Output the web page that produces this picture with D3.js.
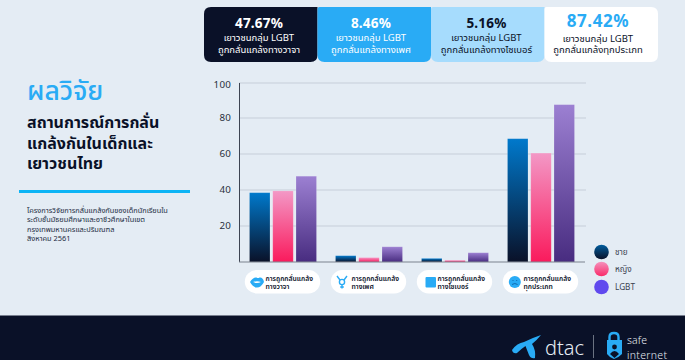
<!DOCTYPE html>
<html><head><meta charset="utf-8">
<script src="https://cdn.jsdelivr.net/npm/d3@7/dist/d3.min.js"></script>
<style>
html,body{margin:0;padding:0;background:#e4ecf4;overflow:hidden}
svg{display:block}
text{font-family:"Noto Sans","Noto Sans Thai","Inter",sans-serif}
</style></head><body><svg id="c" width="685" height="360"></svg>
<script>
const categories=["การถูกกลั่นแกล้ง|ทางวาจา","การถูกกลั่นแกล้ง|ทางเพศ","การถูกกลั่นแกล้ง|ทางไซเบอร์","การถูกกลั่นแกล้ง|ทุกประเภท"];
const seriesNames=["ชาย","หญิง","LGBT"];
const male=[38.5,3.5,2,68.5];
const female=[39.5,2.5,1,60.5];
const lgbt=[47.67,8.46,5.16,87.42];
const yTicks=[20,40,60,80,100];
const calloutPct=["47.67%","8.46%","5.16%","87.42%"];
const calloutLine2=["ถูกกลั่นแกล้งทางวาจา","ถูกกลั่นแกล้งทางเพศ","ถูกกลั่นแกล้งทางไซเบอร์","ถูกกลั่นแกล้งทุกประเภท"];
const calloutFill=["#0a1128","#29abf5","#a6dcfd","#ffffff"];
const calloutPctFill=["#fff","#fff","#0a1128","#29abf5"];
const calloutTextFill=["#fff","#fff","#0a1128","#0a1128"];
const titleLines=["สถานการณ์การกลั่น","แกล้งกันในเด็กและ","เยาวชนไทย"];
const noteLines=["โครงการวิจัยการกลั่นแกล้งกันของเด็กนักเรียนใน","ระดับชั้นมัธยมศึกษาและอาชีวศึกษาในเขต","กรุงเทพมหานครและปริมณฑล","สิงหาคม 2561"];

const svg=d3.select("#c");
const defs=svg.append("defs");
const grads=[["g0","#0079cc","#0a1128"],["g1","#f398c6","#fa1a5c"],["g2","#9c80d2","#482c80"],["l0","#005d9e","#0a1128"],["l1","#f492bd","#fa2a68"]];
grads.forEach(g=>{const l=defs.append("linearGradient").attr("id",g[0]).attr("x1",0).attr("x2",0).attr("y1",0).attr("y2",1);
 l.append("stop").attr("offset",0).attr("stop-color",g[1]);l.append("stop").attr("offset",1).attr("stop-color",g[2]);});

svg.append("rect").attr("width",685).attr("height",360).attr("fill","#e4ecf4");

// callouts
const bx=d3.scaleBand().domain(d3.range(4)).range([204,658]);
const r=7;
function boxPath(x,y,w,h,tl,tr,br,bl){return `M${x+tl},${y}H${x+w-tr}Q${x+w},${y} ${x+w},${y+tr}V${y+h-br}Q${x+w},${y+h} ${x+w-br},${y+h}H${x+bl}Q${x},${y+h} ${x},${y+h-bl}V${y+tl}Q${x},${y} ${x+tl},${y}Z`;}
const calloutCx=[259,371,486.5,598];
d3.range(4).forEach(i=>{
 const x=bx(i),w=bx.bandwidth();
 svg.append("path").attr("d",boxPath(x,7,w,55,i==0?r:2,i==3?r:0,r,r)).attr("fill",calloutFill[i]);
 const cx=calloutCx[i];
 svg.append("text").attr("x",cx).attr("y",i==3?27:27.5).attr("text-anchor","middle").attr("font-family","Roboto,sans-serif").attr("letter-spacing",i==3?0.6:0.2).attr("font-size",i==3?17:13.5).attr("font-weight",700).attr("fill",calloutPctFill[i]).text(calloutPct[i]);
 svg.append("text").attr("x",cx).attr("y",i==3?41.5:40.5).attr("text-anchor","middle").attr("font-size",9.5).attr("fill",calloutTextFill[i]).text("เยาวชนกลุ่ม LGBT");
 svg.append("text").attr("x",cx).attr("y",53).attr("text-anchor","middle").attr("font-size",9.5).attr("fill",calloutTextFill[i]).text(calloutLine2[i]);
});

// left panel
svg.append("text").attr("x",27).attr("y",100).attr("font-size",26.5).attr("font-weight",500).attr("fill","#29abf5").text("ผลวิจัย");
titleLines.forEach((t,i)=>svg.append("text").attr("x",27).attr("y",[128,148.5,169][i]).attr("font-size",16).attr("font-weight",700).attr("fill","#0a1128").text(t));
svg.append("rect").attr("x",19).attr("y",190).attr("width",171).attr("height",3).attr("fill","#0db4f5");
noteLines.forEach((t,i)=>svg.append("text").attr("x",27).attr("y",212.7+i*9.4).attr("font-size",7.4).attr("fill","#222b3f").text(t));

// chart
const x0=d3.scaleBand().domain(d3.range(4)).range([240,584]);
const x1=d3.scaleBand().domain([0,1,2]).range([9.5,76.5]).paddingInner(0.12);
const y=d3.scaleLinear().domain([0,100]).range([262,82]);
const axisY=d3.axisLeft(y).tickValues(yTicks).tickSize(0).tickPadding(8).tickFormat(d3.format("d"));
const g=svg.append("g");
g.append("g").selectAll("line").data(yTicks).join("line").attr("x1",239).attr("x2",586)
 .attr("y1",d=>y(d)+(d==100?1:0)).attr("y2",d=>y(d)+(d==100?1:0)).attr("stroke","#c6ced9").attr("stroke-width",1);
const ga=g.append("g").attr("transform","translate(239,0)").call(axisY);
ga.select(".domain").remove();
ga.selectAll("text").attr("font-size",9.8).attr("fill","#2a3040").attr("font-family","Roboto,sans-serif").attr("letter-spacing","0.2")
 .attr("dy",d=>d==100?"0.6em":"0.3em");
[male,female,lgbt].forEach((vals,s)=>{
 g.append("g").selectAll("rect").data(vals).join("rect")
  .attr("x",(d,i)=>x0(i)+x1(s)).attr("width",x1.bandwidth())
  .attr("y",d=>y(d)).attr("height",d=>y(0)-y(d)).attr("fill",`url(#g${s})`)
  .attr("stroke","#ffffff").attr("stroke-opacity",0.18).attr("stroke-width",0.8);
});
g.append("line").attr("x1",239.5).attr("x2",239.5).attr("y1",83).attr("y2",262).attr("stroke","#3d4452").attr("stroke-width",1);
g.append("line").attr("x1",239).attr("x2",585).attr("y1",262).attr("y2",262).attr("stroke","#7b828d").attr("stroke-width",1.2);

// category pills
const pillC=x0.bandwidth()/2;
categories.forEach((c,i)=>{
 const cx=x0(i)+pillC-0.5;
 svg.append("rect").attr("x",cx-37.7).attr("y",270).attr("width",75.4).attr("height",23.5).attr("rx",11.7).attr("fill","#fff");
 const ls=c.split("|");
 ls.forEach((t,j)=>svg.append("text").attr("x",cx-17).attr("y",280.5+j*8.2).attr("font-size",6.8).attr("font-weight",600).attr("fill","#0a1128").text(t));
});
// icons
const blue="#29abf5";
const ic=svg.append("g");
ic.append("path").attr("d","M250,282 Q253,277 256.5,277.5 Q258,278.5 259.5,277.5 Q263,277 264,282 Q261,287.5 257,287.5 Q253,287.5 250,282Z").attr("fill",blue);
ic.append("path").attr("d","M253,282 Q257,280.5 261,282 Q257,284 253,282Z").attr("fill","#fff");
const t=ic.append("g").attr("fill","none").attr("stroke",blue).attr("stroke-width",1.4);
t.append("circle").attr("cx",342).attr("cy",282).attr("r",2.6);
t.append("path").attr("d","M340,280 L337,276 M344,280 L347,276 M342,285 V288.5 M340.2,287 H343.8");
ic.append("rect").attr("x",425.5).attr("y",277).attr("width",10.5).attr("height",10.5).attr("rx",1).attr("fill",blue);
ic.append("circle").attr("cx",514.8).attr("cy",282).attr("r",6).attr("fill",blue);
ic.append("path").attr("d","M512,284.5 Q514.8,282.5 517.6,284.5 M512.5,280.5 h1 M516.2,280.5 h1").attr("stroke","#0a5c9e").attr("fill","none").attr("stroke-width",0.8);

// legend
const lf=["url(#l0)","url(#l1)","#6049ee"];
seriesNames.forEach((n,i)=>{
 const cy=[252,269,287][i];
 svg.append("circle").attr("cx",601.5).attr("cy",cy).attr("r",7.3).attr("fill",lf[i]);
 svg.append("text").attr("x",615).attr("y",cy+3.2).attr("font-size",8.2).attr("fill","#3a4150").text(n);
});

// footer
svg.append("rect").attr("y",315.5).attr("width",685).attr("height",44.5).attr("fill","#0a1128");
const f=svg.append("g");
f.append("path").attr("d","M512,350 Q517,343 524,342 Q532,338 541,335 Q537,340 532,344 Q536,350 535,358 Q531,359 529,355 Q527,350 525.5,346 Q521,349 517,353 Q513,354 512,350Z").attr("fill","#29abf5");
f.append("text").attr("x",545).attr("y",355).attr("font-size",20).attr("font-family","Roboto,sans-serif").attr("font-weight",300).attr("fill","#e6edf4").text("dtac");
f.append("line").attr("x1",593.5).attr("x2",593.5).attr("y1",335).attr("y2",358).attr("stroke","#6b7382");
f.append("path").attr("d","M609.5,340 V337 Q609.5,333 614,333 Q618.5,333 618.5,337 V340").attr("fill","none").attr("stroke","#29abf5").attr("stroke-width",2.4);
f.append("path").attr("d","M607,340 H622 V354 Q618,358 614,359 Q610,358 607,354Z").attr("fill","#29abf5");
f.append("circle").attr("cx",614.5).attr("cy",347).attr("r",2.4).attr("fill","#0a1128");
f.append("path").attr("d","M610,354 Q614.5,348 619,354 L614.5,358Z").attr("fill","#0a1128");
f.append("text").attr("x",627).attr("y",344).attr("font-size",10.5).attr("font-family","Roboto,sans-serif").attr("font-weight",300).attr("fill","#e6edf4").attr("textLength",20).text("safe");
f.append("text").attr("x",627).attr("y",358.5).attr("font-size",10.5).attr("font-family","Roboto,sans-serif").attr("font-weight",300).attr("fill","#e6edf4").attr("textLength",40).text("internet");
</script></body></html>
